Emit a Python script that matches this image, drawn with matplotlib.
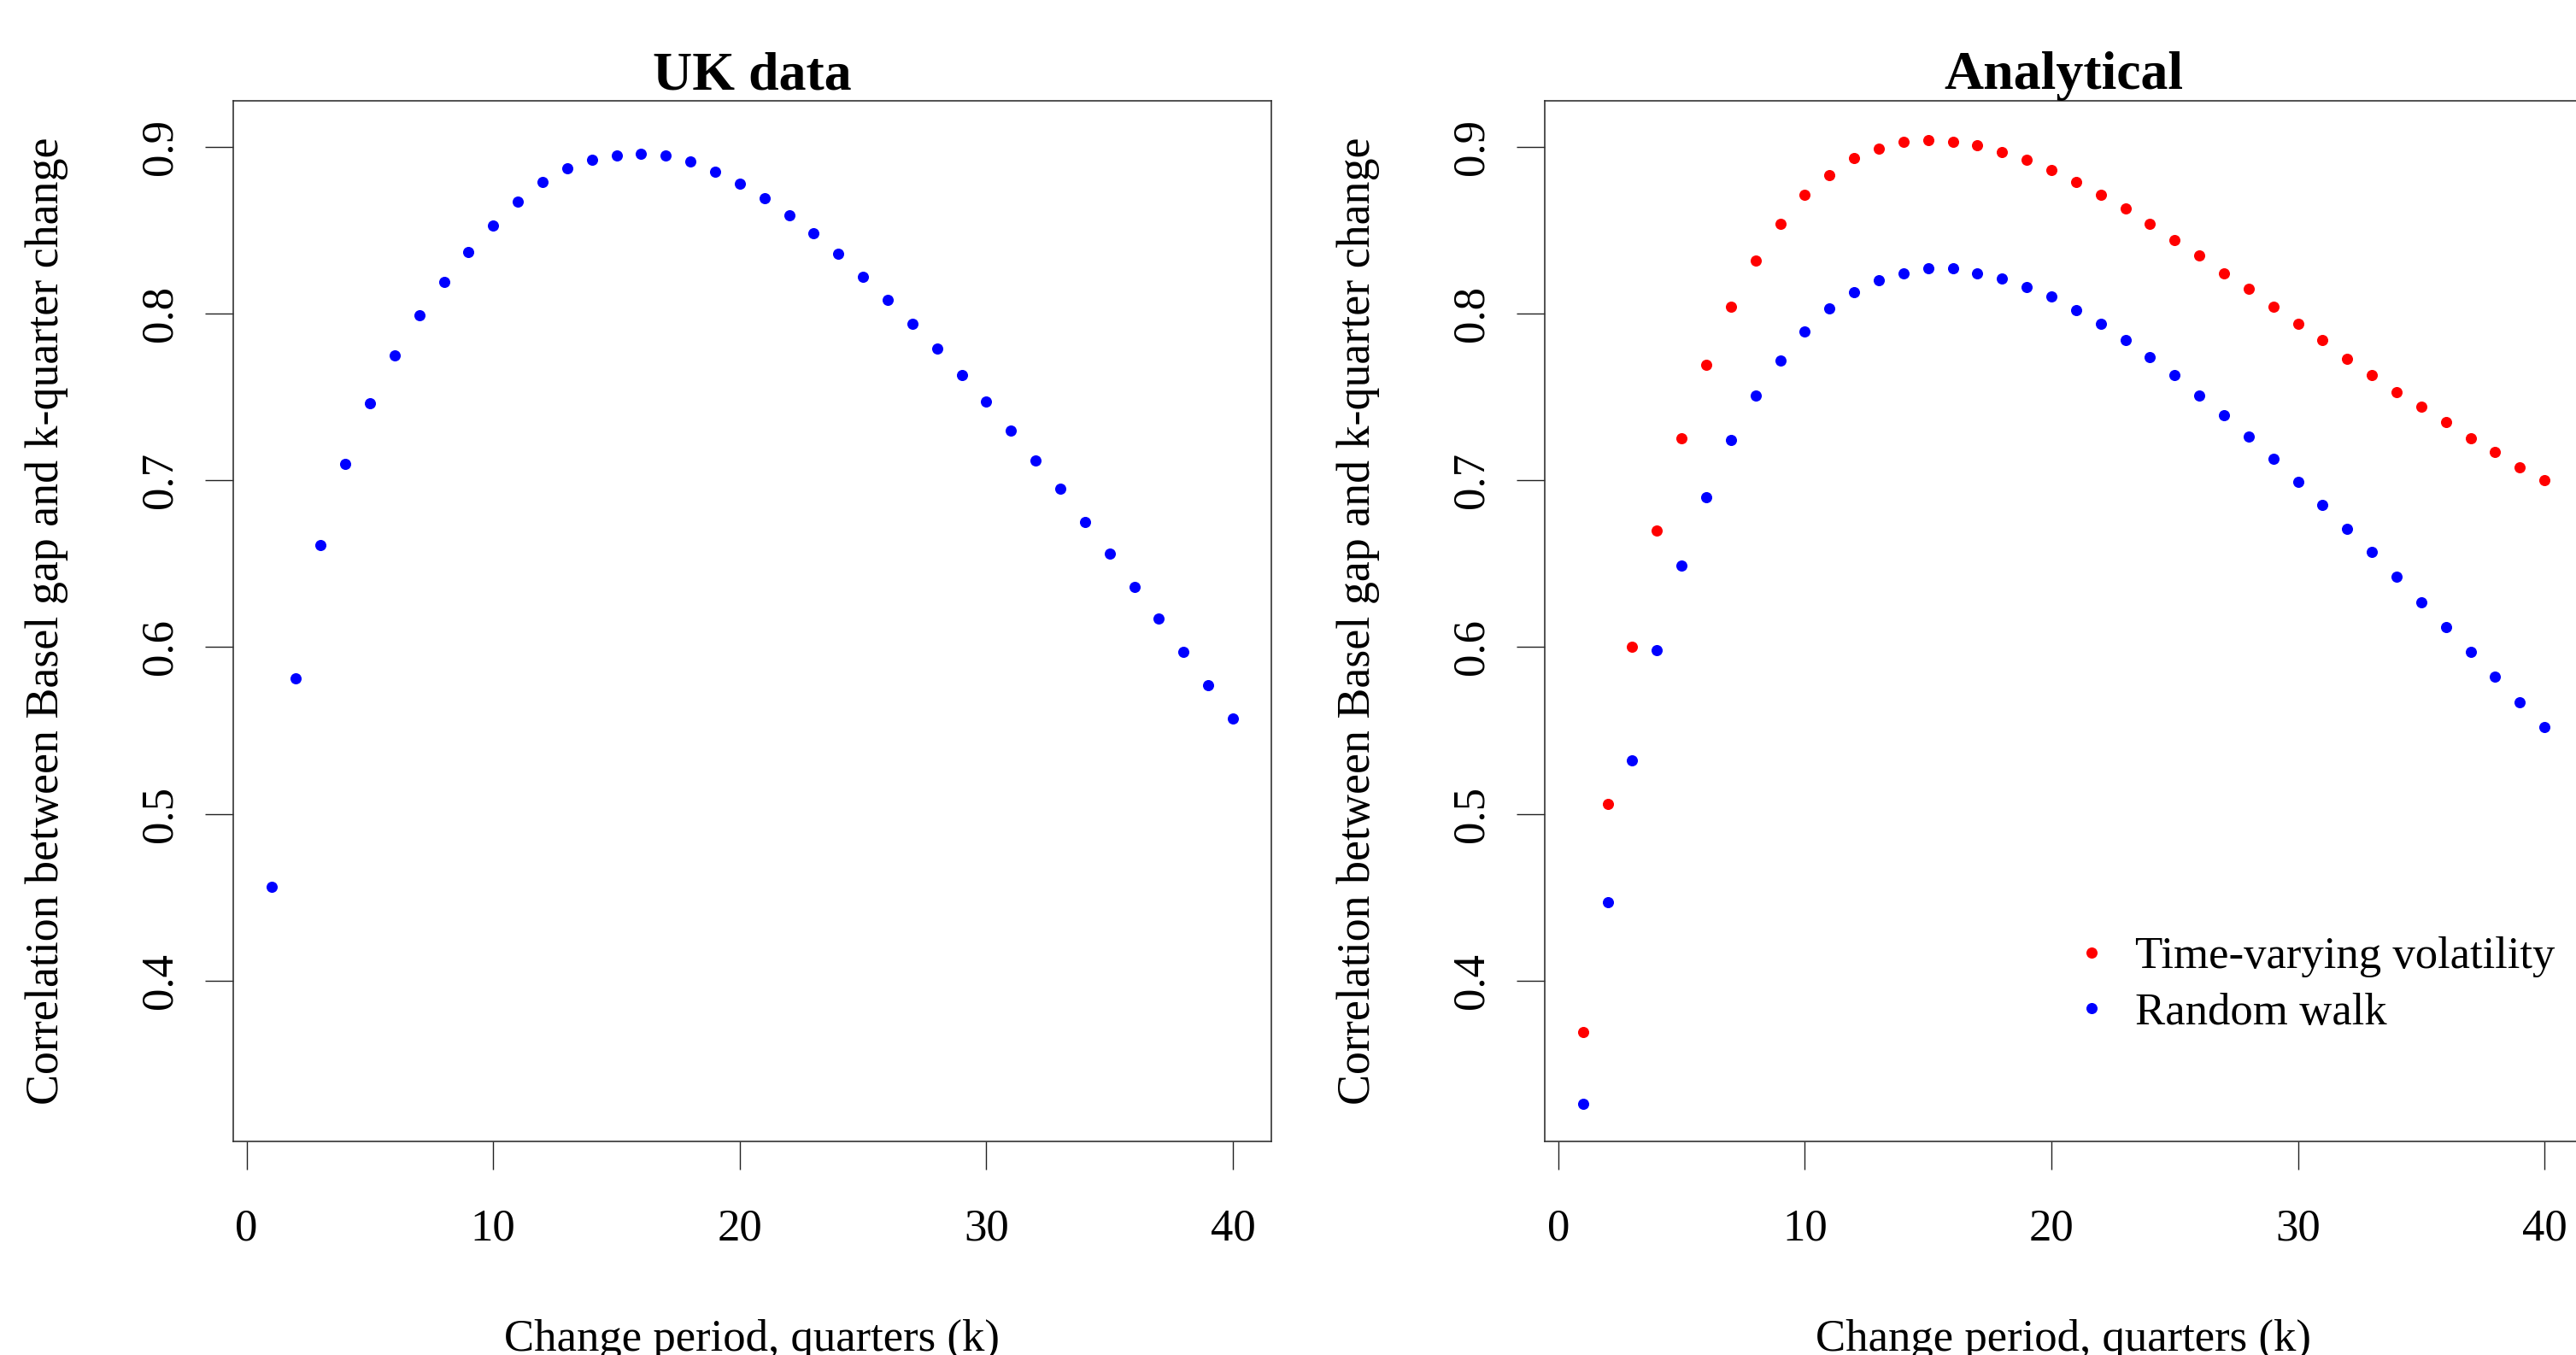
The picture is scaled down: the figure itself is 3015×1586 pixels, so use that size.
import numpy as np
import matplotlib
matplotlib.use('Agg')
import matplotlib.pyplot as plt

plt.rcParams['font.family'] = ['Liberation Serif', 'DejaVu Serif']

k = np.arange(1, 41)

uk_data = [0.456, 0.581, 0.661, 0.710, 0.746, 0.775, 0.799, 0.819, 0.837, 0.853,
           0.867, 0.879, 0.887, 0.892, 0.895, 0.896, 0.895, 0.891, 0.885, 0.878,
           0.869, 0.859, 0.848, 0.836, 0.822, 0.808, 0.794, 0.779, 0.763, 0.747,
           0.730, 0.712, 0.695, 0.675, 0.656, 0.636, 0.617, 0.597, 0.577, 0.557]

tv_vol = [0.369, 0.506, 0.600, 0.670, 0.725, 0.769, 0.804, 0.832, 0.854, 0.871,
          0.883, 0.893, 0.899, 0.903, 0.904, 0.903, 0.901, 0.897, 0.892, 0.886,
          0.879, 0.871, 0.863, 0.854, 0.844, 0.835, 0.824, 0.815, 0.804, 0.794,
          0.784, 0.773, 0.763, 0.753, 0.744, 0.735, 0.725, 0.717, 0.708, 0.700]

rand_walk = [0.326, 0.447, 0.532, 0.598, 0.649, 0.690, 0.724, 0.751, 0.772, 0.789,
             0.803, 0.813, 0.820, 0.824, 0.827, 0.827, 0.824, 0.821, 0.816, 0.810,
             0.802, 0.794, 0.784, 0.774, 0.763, 0.751, 0.739, 0.726, 0.713, 0.699,
             0.685, 0.671, 0.657, 0.642, 0.627, 0.612, 0.597, 0.582, 0.567, 0.552]

x_ticks = [0, 10, 20, 30, 40]
y_ticks = [0.4, 0.5, 0.6, 0.7, 0.8, 0.9]
ylab = 'Correlation between Basel gap and k-quarter change'
xlab = 'Change period, quarters (k)'

W, H = 3015, 1586
fs = 38
fig = plt.figure(figsize=(W / 100, H / 100), dpi=100)

ax1 = fig.add_axes([272.5 / W, 1 - 1335.7 / H, 1215.5 / W, 1217.4 / H])
ax2 = fig.add_axes([1807.7 / W, 1 - 1335.7 / H, 1215.5 / W, 1217.4 / H])

ax1.plot(k, uk_data, 'o', color='blue', markersize=9.4, markeredgewidth=0)
ax2.plot(k, tv_vol, 'o', color='red', markersize=9.4, markeredgewidth=0,
         label='Time-varying volatility')
ax2.plot(k, rand_walk, 'o', color='blue', markersize=9.4, markeredgewidth=0,
         label='Random walk')

for ax, title, x0 in [(ax1, 'UK data', 68), (ax2, 'Analytical', 1603)]:
    ax.set_xlim(-0.56, 41.56)
    ax.set_ylim(0.3037, 0.9274)
    ax.set_xticks(x_ticks)
    ax.set_yticks(y_ticks)
    ax.set_xticklabels([str(t) for t in x_ticks], fontsize=fs)
    ax.set_yticklabels([str(t) for t in y_ticks], fontsize=fs,
                       rotation=90, va='center', ha='right')
    ax.tick_params(axis='x', length=24, width=1, pad=33, color='#222222')
    ax.tick_params(axis='y', length=24, width=1, pad=20, color='#222222')
    for s in ax.spines.values():
        s.set_linewidth(1.2)
        s.set_color('#333333')
    ax.set_title(title, fontsize=46, fontweight='bold', pad=6)
    fig.text(x0 / W, 1 - 727 / H, ylab, fontsize=38.8, rotation=90,
             rotation_mode='anchor', ha='center', va='baseline')
    bb = ax.get_position()
    fig.text((bb.x0 + bb.x1) / 2, 1 - 1581 / H, xlab, fontsize=fs,
             ha='center', va='baseline')

ax2.legend(loc='upper left', bbox_to_anchor=(2422 / W, 1 - 1096 / H),
           bbox_transform=fig.transFigure, frameon=False, fontsize=fs,
           borderpad=0, borderaxespad=0, handlelength=1.0, handletextpad=0.45,
           labelspacing=0.34, markerscale=1.0)

fig.savefig('out.png', dpi=100)
